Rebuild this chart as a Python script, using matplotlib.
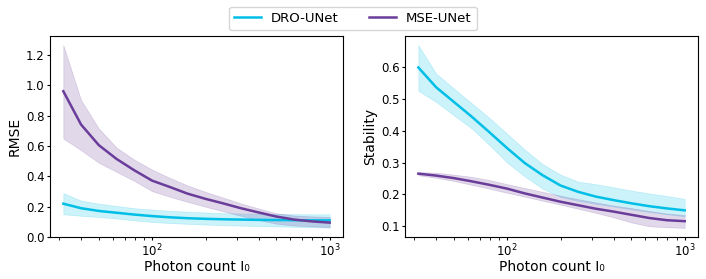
import numpy as np
import matplotlib
matplotlib.use("Agg")
import matplotlib.pyplot as plt

# photon counts (log spaced)
photon = 10 ** np.array([1.5, 1.6, 1.7, 1.8, 1.9, 2.0, 2.1, 2.2, 2.3, 2.4, 2.5, 2.6, 2.7, 2.8, 2.9, 3.0])

# RMSE
rmse_dro = [0.22, 0.19, 0.172, 0.16, 0.148, 0.138, 0.13, 0.124, 0.12, 0.117, 0.115, 0.113, 0.112, 0.111, 0.11, 0.11]
rmse_dro_hi = [0.29, 0.24, 0.22, 0.205, 0.19, 0.181, 0.173, 0.167, 0.162, 0.158, 0.155, 0.153, 0.152, 0.151, 0.15, 0.15]
rmse_dro_lo = [0.15, 0.14, 0.132, 0.122, 0.11, 0.099, 0.092, 0.087, 0.082, 0.078, 0.075, 0.072, 0.07, 0.067, 0.065, 0.062]
rmse_mse = [0.962, 0.742, 0.606, 0.515, 0.44, 0.372, 0.33, 0.286, 0.252, 0.222, 0.19, 0.162, 0.135, 0.115, 0.103, 0.095]
rmse_mse_hi = [1.266, 0.903, 0.716, 0.59, 0.51, 0.445, 0.39, 0.34, 0.298, 0.26, 0.222, 0.188, 0.157, 0.142, 0.136, 0.132]
rmse_mse_lo = [0.65, 0.573, 0.49, 0.43, 0.37, 0.303, 0.265, 0.232, 0.2, 0.17, 0.14, 0.112, 0.088, 0.076, 0.07, 0.066]

# Stability
stab_dro = [0.598, 0.536, 0.49, 0.444, 0.395, 0.345, 0.298, 0.26, 0.228, 0.208, 0.193, 0.182, 0.172, 0.163, 0.156, 0.15]
stab_dro_hi = [0.668, 0.579, 0.532, 0.486, 0.44, 0.39, 0.34, 0.295, 0.262, 0.24, 0.232, 0.222, 0.212, 0.203, 0.195, 0.186]
stab_dro_lo = [0.525, 0.49, 0.448, 0.407, 0.355, 0.3, 0.256, 0.218, 0.192, 0.18, 0.17, 0.162, 0.153, 0.145, 0.138, 0.131]
stab_mse = [0.265, 0.259, 0.251, 0.241, 0.23, 0.218, 0.203, 0.19, 0.177, 0.166, 0.155, 0.146, 0.136, 0.126, 0.119, 0.116]
stab_mse_hi = [0.27, 0.268, 0.262, 0.255, 0.245, 0.232, 0.22, 0.208, 0.196, 0.185, 0.175, 0.165, 0.157, 0.148, 0.14, 0.135]
stab_mse_lo = [0.26, 0.252, 0.242, 0.23, 0.218, 0.205, 0.193, 0.18, 0.168, 0.155, 0.142, 0.128, 0.112, 0.1, 0.097, 0.095]

c_dro = "#00bfe6"
c_mse = "#6a3d9a"

fig = plt.figure(figsize=(7.06, 2.79), dpi=100)
ax1 = fig.add_axes([0.0708, 0.1505, 0.415, 0.7204])
ax2 = fig.add_axes([0.5737, 0.1505, 0.415, 0.7204])

panels = [
    (ax1, "RMSE", rmse_dro, rmse_dro_lo, rmse_dro_hi, rmse_mse, rmse_mse_lo, rmse_mse_hi),
    (ax2, "Stability", stab_dro, stab_dro_lo, stab_dro_hi, stab_mse, stab_mse_lo, stab_mse_hi),
]
for ax, ylab, d, dlo, dhi, m, mlo, mhi in panels:
    ax.fill_between(photon, dlo, dhi, color=c_dro, alpha=0.2, linewidth=0.5)
    ax.plot(photon, d, color=c_dro, linewidth=1.8, label="DRO-UNet")
    ax.fill_between(photon, mlo, mhi, color=c_mse, alpha=0.2, linewidth=0.5)
    ax.plot(photon, m, color=c_mse, linewidth=1.8, label="MSE-UNet")
    ax.set_xscale("log")
    ax.set_xlabel("Photon count I\u2080", fontsize=10, labelpad=0.5)
    ax.set_ylabel(ylab, fontsize=10, labelpad=3)
    ax.tick_params(labelsize=8.5, length=2.5, pad=1.5)
    ax.tick_params(which="minor", length=1.8)

ax1.set_yticks([0.0, 0.2, 0.4, 0.6, 0.8, 1.0, 1.2])
ax2.set_yticks([0.1, 0.2, 0.3, 0.4, 0.5, 0.6])

handles, labels = ax1.get_legend_handles_labels()
fig.legend(handles, labels, loc="upper center", bbox_to_anchor=(0.5, 1.0), ncol=2, fontsize=9.5, columnspacing=2.3)

fig.savefig("out.png", dpi=100)
